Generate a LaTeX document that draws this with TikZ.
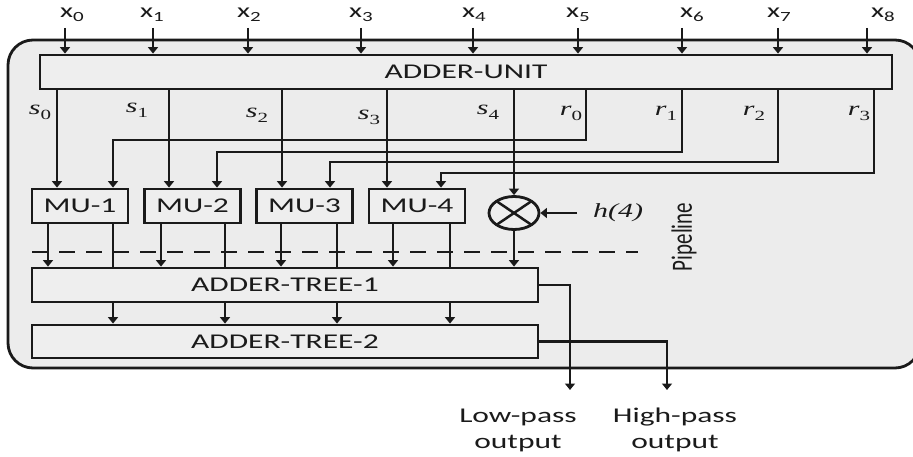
\documentclass[tikz,border=0pt]{standalone}
\usepackage{fontspec}
\setmainfont{Carlito}
\newfontfamily\serifit{Liberation Serif}
\usepackage{graphicx}
\usetikzlibrary{arrows.meta,shapes.geometric,calc}
\definecolor{panel}{HTML}{ECECEC}
\definecolor{boxfill}{HTML}{EEEEEE}
\definecolor{ink}{HTML}{1A1A1A}
\newcommand\wide[1]{\scalebox{1.5}[1]{#1}}
\newcommand\xin[1]{\wide{x\raisebox{-4pt}{\fontsize{14}{14}\selectfont #1}}}
\newcommand\var[2]{\wide{{\serifit\itshape #1}\raisebox{-5pt}{\fontsize{14}{14}\selectfont\serifit #2}}}
\begin{document}
\begin{tikzpicture}[x=1pt,y=-1pt,
  box/.style={draw=ink, fill=boxfill, line width=2.8pt, inner sep=0pt,
    font=\fontsize{21}{24}\selectfont, text=ink},
  wire/.style={draw=ink, line width=2.7pt},
  arr/.style={wire, -{Triangle[width=10pt,length=6.5pt]}},
  lbl/.style={inner sep=0pt, text=ink, font=\fontsize{20}{20}\selectfont},
]
\useasboundingbox (0,0) rectangle (913,457);
\draw[ink, line width=2.8pt, fill=panel, rounded corners=25pt] (8,40) rectangle (920,368);

% boxes
\node[box, minimum width=852pt, minimum height=34pt] (adu) at (466,72) {\wide{ADDER-UNIT}};
\node[box, minimum width=96pt, minimum height=34pt] (mu1) at (80,206) {\wide{MU-1}};
\node[box, minimum width=96pt, minimum height=34pt] (mu2) at (192.5,206) {\wide{MU-2}};
\node[box, minimum width=96pt, minimum height=34pt] (mu3) at (304.5,206) {\wide{MU-3}};
\node[box, minimum width=96pt, minimum height=34pt] (mu4) at (417,206) {\wide{MU-4}};
\node[box, ellipse, minimum width=50pt, minimum height=33pt] (mult) at (514,213) {};
\draw[ink, line width=2.5pt] ([shift={(-17.7,-12)}]mult.center) -- ([shift={(17.7,12)}]mult.center);
\draw[ink, line width=2.5pt] ([shift={(-17.7,12)}]mult.center) -- ([shift={(17.7,-12)}]mult.center);
\node[box, minimum width=506pt, minimum height=34pt] (at1) at (285,285) {\wide{ADDER-TREE-1}};
\node[box, minimum width=506pt, minimum height=33pt] (at2) at (285,341.5) {\wide{ADDER-TREE-2}};

% input labels and arrows
\foreach \n/\x/\lx in {0/65/72,1/153/152,2/248/249,3/361/361,4/473/474,5/578/578,6/682/692,7/778/779,8/867/883}{
  \node[lbl] (xl\n) at (\lx,15) {\xin{\n}};
  \coordinate (in\n) at (\x,28);
  \draw[arr] (in\n) -- (in\n |- adu.north);
}

% s outputs
\foreach \n/\x/\lx/\ly/\tgt in {0/57/40/112/mu1,1/169/137/110/mu2,2/282/257/115/mu3,3/387/369/117/mu4}{
  \coordinate (s\n) at (\x,0);
  \node[lbl] (sl\n) at (\lx,\ly) {\var{s}{\n}};
  \draw[arr] (adu.south -| s\n) -- (\tgt.north -| s\n);
}
\coordinate (s4) at (514,0);
\node[lbl] (sl4) at (488,112) {\var{s}{4}};
\draw[arr] (adu.south -| s4) -- (mult.north);

% r outputs
\foreach \n/\x/\lx/\y/\d/\tgt in {0/586/571/140/113/mu1,1/682/666/152/217/mu2,2/778/754/162/330/mu3,3/874/859/173/441/mu4}{
  \coordinate (rt\n) at (\x,\y);
  \coordinate (rd\n) at (\d,\y);
  \node[lbl] (rl\n) at (\lx,113) {\var{r}{\n}};
  \draw[arr] (adu.south -| rt\n) -- (rt\n) -- (rd\n) -- (\tgt.north -| rd\n);
}

% h(4)
\node[lbl] (h4) at (618,213) {\wide{\serifit\itshape h(4)}};
\coordinate (hin) at (577,213);
\draw[arr] (hin) -- (mult.east);

% pipeline
\coordinate (pl) at (32,252);
\coordinate (pr) at (638,252);
\draw[ink, line width=2.8pt, dash pattern=on 16pt off 11pt] (pl) -- (pr);
\node[lbl, rotate=90, font=\fontsize{21}{21}\selectfont] (pipe) at (684,237) {\scalebox{1}[1.4]{Pipeline}};

% MU outputs
\foreach \m/\a/\b in {mu1/48/113,mu2/161/225,mu3/281/337,mu4/393/450}{
  \coordinate (oa\m) at (\a,0);
  \coordinate (ob\m) at (\b,0);
  \draw[arr] (\m.south -| oa\m) -- (at1.north -| oa\m);
  \draw[wire] (\m.south -| ob\m) -- (at1.north -| ob\m);
  \draw[arr] (at1.south -| ob\m) -- (at2.north -| ob\m);
}
\draw[arr] (mult.south) -- (at1.north -| mult.south);

% outputs
\coordinate (lo) at (570,390);
\coordinate (hi) at (667,390);
\draw[arr] (at1.east) -| (lo);
\draw[arr] (at2.east) -| (hi);
\node[lbl, align=center, font=\fontsize{21}{26}\selectfont] (lpo) at (518,430) {\wide{Low-pass}\\\wide{output}};
\node[lbl, align=center, font=\fontsize{21}{26}\selectfont] (hpo) at (675,430) {\wide{High-pass}\\\wide{output}};
\end{tikzpicture}
\end{document}
